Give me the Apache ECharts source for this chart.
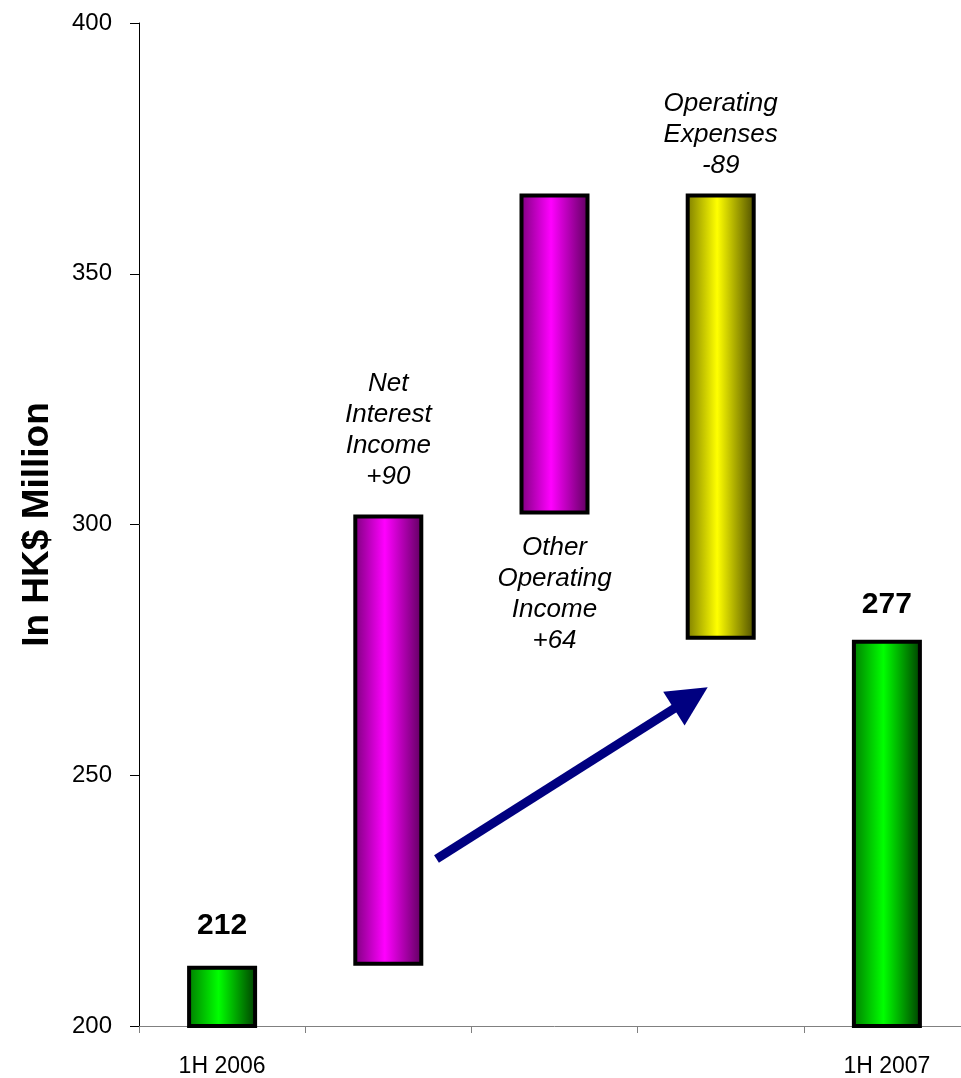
<!DOCTYPE html>
<html>
<head>
<meta charset="utf-8">
<style>
    html, body { margin: 0; padding: 0; background: #fff; overflow: hidden; }
    #chart { width: 971px; height: 1078px; }
</style>
<script src="https://cdn.jsdelivr.net/npm/echarts@6/dist/echarts.min.js"></script>
</head>
<body>
<div id="chart"></div>
<script>
var categories = ['1H 2006', 'NII', 'OOI', 'OPEX', '1H 2007'];
var axisLabels = ['1H 2006', '', '', '', '1H 2007'];
// invisible base of each floating bar, and the visible part stacked on it
var baseValues = [0, 212, 302, 277, 0];
var barValues = [212, 90, 64, 89, 277];
var barKinds = ['total', 'up', 'up', 'down', 'total'];
var barLabels = ['212', 'Net\nInterest\nIncome\n+90', 'Other\nOperating\nIncome\n+64', 'Operating\nExpenses\n-89', '277'];
var yTicks = [200, 250, 300, 350, 400];
// arrow drawn in value-axis units (category index, HK$ million)
var arrowFrom = [1.29, 233.3];
var arrowTo = [2.82, 265.4];

function grad(dark, bright, darker) {
    return new echarts.graphic.LinearGradient(0, 0, 1, 0, [
        { offset: 0, color: dark },
        { offset: 0.45, color: bright },
        { offset: 1, color: darker }
    ]);
}
var fills = {
    total: grad('#007a00', '#00ff00', '#003a00'),
    up: grad('#7a007a', '#ff00ff', '#5a005a'),
    down: grad('#7a7a00', '#ffff00', '#4a4a00')
};
var labelDistance = [23, 22, 18, 12, 18];

var chart = echarts.init(document.getElementById('chart'));

var barData = barValues.map(function (v, i) {
    var kind = barKinds[i];
    var isTotal = kind === 'total';
    return {
        value: v,
        itemStyle: { color: fills[kind] },
        label: {
            show: true,
            formatter: barLabels[i],
            position: i === 2 ? 'bottom' : 'top',
            distance: labelDistance[i],
            fontSize: isTotal ? 30 : 26,
            fontWeight: isTotal ? 'bold' : 'normal',
            fontStyle: isTotal ? 'normal' : 'italic',
            lineHeight: isTotal ? 34 : 31,
            color: '#000',
            fontFamily: 'Liberation Sans, Arial, sans-serif'
        }
    };
});

var option = {
    animation: false,
    grid: { left: 139, right: 1, top: 23, bottom: 51 },
    xAxis: [
        {
            type: 'category',
            data: categories,
            boundaryGap: true,
            axisLine: { lineStyle: { color: '#808080', width: 1 } },
            axisTick: { show: true, length: 7, lineStyle: { color: '#808080' } },
            axisLabel: {
                formatter: function (v, i) { return axisLabels[i]; },
                margin: 29,
                fontSize: 23,
                color: '#000',
                fontFamily: 'Liberation Sans, Arial, sans-serif'
            }
        },
        {
            type: 'value',
            min: -0.5,
            max: 4.5,
            show: false
        }
    ],
    yAxis: {
        type: 'value',
        min: yTicks[0],
        max: yTicks[yTicks.length - 1],
        interval: 50,
        name: 'In HK$ Million',
        nameLocation: 'middle',
        nameRotate: 90,
        nameGap: 83,
        nameTextStyle: {
            fontSize: 37,
            fontWeight: 'bold',
            color: '#000',
            fontFamily: 'Liberation Sans, Arial, sans-serif'
        },
        axisLine: { show: true, onZero: false, lineStyle: { color: '#000', width: 1 } },
        axisTick: { show: true, length: 9, lineStyle: { color: '#000' } },
        axisLabel: {
            margin: 27,
            fontSize: 24,
            color: '#000',
            fontFamily: 'Liberation Sans, Arial, sans-serif'
        },
        splitLine: { show: false }
    },
    series: [
        {
            name: 'base',
            type: 'bar',
            stack: 'w',
            barWidth: 70,
            itemStyle: { color: 'transparent' },
            data: baseValues,
            silent: true
        },
        {
            name: 'change',
            type: 'bar',
            stack: 'w',
            barWidth: 70,
            itemStyle: { borderColor: '#000', borderWidth: 4 },
            data: barData
        },
        {
            name: 'arrow',
            type: 'line',
            xAxisIndex: 1,
            data: [arrowFrom, arrowTo],
            showSymbol: false,
            lineStyle: { opacity: 0 },
            silent: true,
            markLine: {
                silent: true,
                symbol: ['none', 'path://M0,0L1,2L-1,2Z'],
                symbolSize: [40, 40],
                label: { show: false },
                lineStyle: { color: '#000080', width: 9, type: 'solid', cap: 'butt' },
                data: [[{ coord: arrowFrom }, { coord: arrowTo }]]
            }
        }
    ]
};

chart.setOption(option);
</script>
</body>
</html>
